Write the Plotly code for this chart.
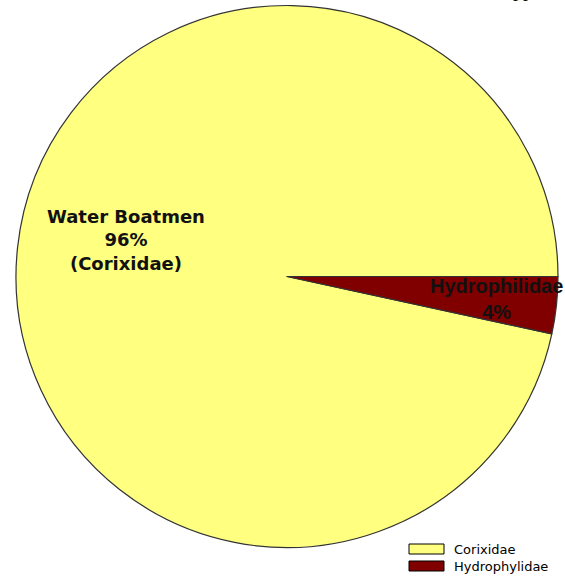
import plotly.graph_objects as go

# Data
legend_labels = ["Corixidae", "Hydrophylidae"]
slice_names = ["Water Boatmen<br>96%<br>(Corixidae)", "Hydrophilidae<br>4%"]
values = [96.6, 3.4]
colors = ["#FFFF80", "#800000"]

W, H = 565, 578
cx, cy, r = 287, 276.5, 271

# start Corixidae so that Hydrophilidae occupies the wedge just below 3 o'clock
rotation = 90 + values[1] / sum(values) * 360

fig = go.Figure()
fig.add_trace(go.Pie(
    labels=legend_labels,
    values=values,
    sort=False,
    direction="clockwise",
    rotation=rotation,
    marker=dict(colors=colors, line=dict(color="#333333", width=1.2)),
    textinfo="none",
    hoverinfo="label+percent",
    showlegend=False,
    domain=dict(x=[(cx - r) / W, (cx + r) / W],
                y=[(H - cy - r) / H, (H - cy + r) / H]),
))

def px(x):
    return x / W

def py(y):
    return 1 - y / H

annotations = [
    dict(x=px(126), y=py(240), text="<b>" + slice_names[0] + "</b>",
         font=dict(family="DejaVu Sans, Arial, sans-serif", size=18, color="#111111"),
         showarrow=False, xanchor="center", yanchor="middle", align="center"),
    dict(x=px(497), y=py(299), text="<b>" + slice_names[1] + "</b>",
         font=dict(family="Liberation Sans, Arial, sans-serif", size=20, color="#111111"),
         showarrow=False, xanchor="center", yanchor="middle", align="center"),
    dict(x=px(523), y=py(3), text="pp",
         font=dict(family="Liberation Serif, Times New Roman, serif", size=20, color="#000000"),
         showarrow=False, xanchor="center", yanchor="bottom"),
]

shapes = []
legend_y = [549, 566]
for i, lab in enumerate(legend_labels):
    y = legend_y[i]
    shapes.append(dict(type="rect", xref="paper", yref="paper",
                       x0=px(409), x1=px(444), y0=py(y - 5), y1=py(y + 5),
                       fillcolor=colors[i], line=dict(color="#000000", width=1)))
    annotations.append(dict(x=px(452), y=py(y), text=lab, showarrow=False,
                            xanchor="left", yanchor="middle",
                            font=dict(family="DejaVu Sans, Arial, sans-serif", size=13, color="#000000")))

fig.update_layout(
    width=W, height=H,
    margin=dict(l=0, r=0, t=0, b=0),
    paper_bgcolor="white",
    plot_bgcolor="white",
    annotations=annotations,
    shapes=shapes,
)

fig.write_html("out.html", config={"displayModeBar": False},
               post_script="document.body.style.margin='0';document.body.style.overflow='hidden';")
